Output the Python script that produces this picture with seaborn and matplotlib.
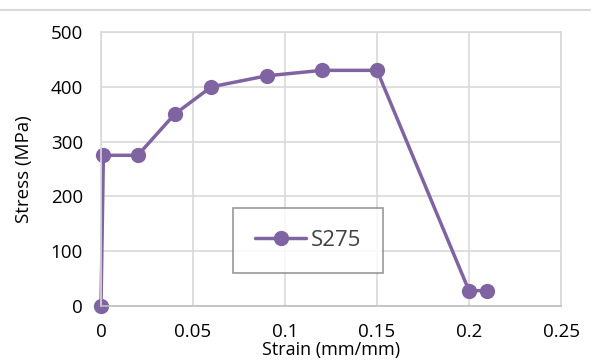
import matplotlib
matplotlib.use("Agg")
import matplotlib.pyplot as plt
from matplotlib.lines import Line2D
import seaborn as sns
import pandas as pd

strain = [0.0, 0.0013, 0.02, 0.04, 0.06, 0.09, 0.12, 0.15, 0.20, 0.21]
stress = [0, 275, 275, 350, 400, 420, 430, 430, 28, 28]
series_name = "S275"
x_ticks = [0, 0.05, 0.1, 0.15, 0.2, 0.25]
x_tick_labels = ["0", "0.05", "0.1", "0.15", "0.2", "0.25"]
y_ticks = [0, 100, 200, 300, 400, 500]

df = pd.DataFrame({"Strain": strain, "Stress": stress, "Series": series_name})

sns.set_theme(style="white")
plt.rcParams["font.family"] = ["Open Sans", "DejaVu Sans"]

purple = "#8064A2"
grid_c = "#D9D9D9"
text_c = "#000000"

fig = plt.figure(figsize=(5.92, 3.64), dpi=100)
ax = fig.add_axes([101/592, 1 - 306/364, (561-101)/592, (306-32)/364])

sns.lineplot(data=df, x="Strain", y="Stress", hue="Series", palette=[purple],
             marker="o", markersize=11, markeredgewidth=0, linewidth=2.5,
             sort=False, estimator=None, ax=ax, legend=False, clip_on=False)

ax.set_xlim(0, 0.25)
ax.set_ylim(0, 500)
ax.set_xticks(x_ticks)
ax.set_xticklabels(x_tick_labels)
ax.set_yticks(y_ticks)
ax.grid(True, color=grid_c, linewidth=1.2)
ax.set_axisbelow(True)
for s in ["top", "right", "left"]:
    ax.spines[s].set_color(grid_c)
    ax.spines[s].set_linewidth(1.2)
ax.spines["bottom"].set_color("#BFBFBF")
ax.spines["bottom"].set_linewidth(1.2)
ax.tick_params(axis="both", length=0, labelsize=13.5, colors=text_c)
ax.tick_params(axis="y", pad=13)
ax.tick_params(axis="x", pad=12)
ax.set_xlabel("Strain (mm/mm)", fontsize=13, color=text_c, labelpad=0)
ax.set_ylabel("Stress (MPa)", fontsize=13.5, color=text_c, labelpad=13)

handle = Line2D([], [], color=purple, marker="o", markersize=11,
                markeredgewidth=0, linewidth=2.5)
leg = ax.legend([handle], [series_name], loc="upper left",
                bbox_to_anchor=((233-101)/460, 1 - (208-32)/274),
                frameon=True, fancybox=False, fontsize=16, handlelength=2.3,
                borderpad=1.0, borderaxespad=0, handletextpad=0.2)
leg.get_frame().set_edgecolor("#7F7F7F")
leg.get_frame().set_linewidth(1.2)
for t in leg.get_texts():
    t.set_color("#404040")

fig.add_artist(Line2D([0, 590/592], [1 - 9.5/364, 1 - 9.5/364],
                      transform=fig.transFigure, color="#D9D9D9", linewidth=1.5))

fig.savefig("out.png", dpi=100, facecolor="white")
